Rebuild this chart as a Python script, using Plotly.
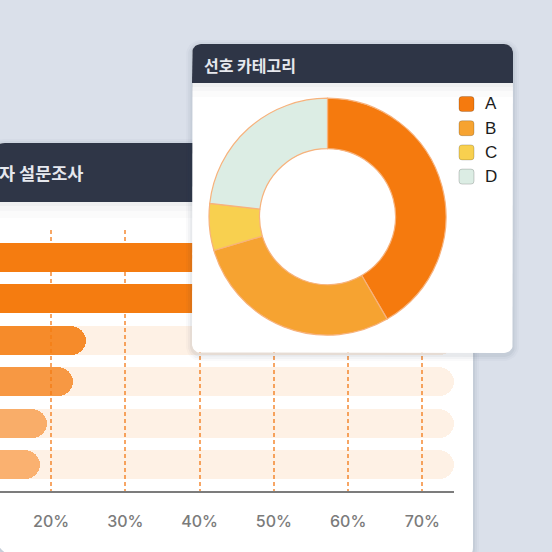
import numpy as np
import plotly.graph_objects as go

W = H = 552

# ---------------- data ----------------
bar_categories = ["매우 만족", "만족", "보통", "불만족", "매우 불만족", "무응답"]
bar_values = [62, 55, 24.7, 22.9, 19.5, 18.5]
bar_alpha = [1.0, 1.0, 0.88, 0.76, 0.58, 0.55]
track_max = 74.3
x_ticks = [20, 30, 40, 50, 60, 70]
x_tick_labels = ["20%", "30%", "40%", "50%", "60%", "70%"]

pie_labels = ["A", "B", "C", "D"]
pie_values = [41.6, 28.8, 6.4, 23.2]
pie_colors = ["#f57a0e", "#f6a331", "#f8d04f", "#dcede4"]

bar_title = "자 설문조사"
pie_title = "선호 카테고리"

ORANGE = (245, 124, 16)
KR_FONT = "Noto Sans CJK KR"
LAT_FONT = "Liberation Sans"


def px(x):
    return x / W


def py(y):
    return 1 - y / H


def rr_path(x0, y0, x1, y1, rtl, rtr, rbr, rbl):
    """rounded rect path in paper coords from pixel coords"""
    def p(x, y):
        return f"{px(x):.5f},{py(y):.5f}"
    return (f"M{p(x0 + rtl, y0)} L{p(x1 - rtr, y0)} Q{p(x1, y0)} {p(x1, y0 + rtr)} "
            f"L{p(x1, y1 - rbr)} Q{p(x1, y1)} {p(x1 - rbr, y1)} "
            f"L{p(x0 + rbl, y1)} Q{p(x0, y1)} {p(x0, y1 - rbl)} "
            f"L{p(x0, y0 + rtl)} Q{p(x0, y0)} {p(x0 + rtl, y0)} Z")


def rr_pts(x0, y0, x1, y1, rtl, rtr, rbr, rbl, n=10):
    xs, ys = [], []
    corners = [
        (x1 - rtr, y0 + rtr, rtr, -90, 0),
        (x1 - rbr, y1 - rbr, rbr, 0, 90),
        (x0 + rbl, y1 - rbl, rbl, 90, 180),
        (x0 + rtl, y0 + rtl, rtl, 180, 270),
    ]
    for cx, cy, r, a0, a1 in corners:
        for a in np.linspace(np.radians(a0), np.radians(a1), n):
            xs.append(cx + r * np.cos(a))
            ys.append(cy + r * np.sin(a))
    xs.append(xs[0])
    ys.append(ys[0])
    return xs, ys


fig = go.Figure()

# ---------------- bar chart (xy tracks, xy3 values overlaid) ----------------
pos = list(range(len(bar_categories)))
fig.add_trace(go.Bar(
    x=[track_max] * len(pos), y=pos, orientation="h", width=0.7,
    marker=dict(color="rgba(245,124,16,0.11)", cornerradius="50%", line=dict(width=0)),
    hoverinfo="skip", showlegend=False, xaxis="x", yaxis="y",
))
fig.add_trace(go.Bar(
    x=bar_values, y=pos, orientation="h", width=0.7,
    marker=dict(color=[f"rgba({ORANGE[0]},{ORANGE[1]},{ORANGE[2]},{a})" for a in bar_alpha],
                cornerradius="50%", line=dict(width=0)),
    customdata=bar_categories, hovertemplate="%{customdata}: %{x}%<extra></extra>",
    showlegend=False, xaxis="x", yaxis="y3",
))

# ---------------- donut card (x2y2, above bars) ----------------
cx0, cy0, cx1, cy1 = 192, 44, 513, 353
for k, a in [(6, 0.025), (4, 0.035), (2, 0.05)]:
    xs, ys = rr_pts(cx0 - k, cy0 - k + 2, cx1 + k, cy1 + k + 2, 9 + k, 9 + k, 9 + k, 9 + k)
    fig.add_trace(go.Scatter(x=xs, y=ys, mode="lines", fill="toself", line=dict(width=0),
                             fillcolor=f"rgba(40,50,75,{a})", hoverinfo="skip",
                             showlegend=False, xaxis="x2", yaxis="y2"))
xs, ys = rr_pts(cx0, cy0, cx1, cy1, 9, 9, 9, 9)
fig.add_trace(go.Scatter(x=xs, y=ys, mode="lines", fill="toself", line=dict(width=0),
                         fillcolor="#ffffff", hoverinfo="skip", showlegend=False,
                         xaxis="x2", yaxis="y2"))
for h, a in [(14, 0.02), (8, 0.025), (4, 0.03)]:
    xs, ys = rr_pts(cx0, 83, cx1, 83 + h, 0, 0, 0, 0, n=2)
    fig.add_trace(go.Scatter(x=xs, y=ys, mode="lines", fill="toself", line=dict(width=0),
                             fillcolor=f"rgba(40,50,75,{a})", hoverinfo="skip",
                             showlegend=False, xaxis="x2", yaxis="y2"))
xs, ys = rr_pts(cx0, cy0, cx1, 83, 9, 9, 0, 0)
fig.add_trace(go.Scatter(x=xs, y=ys, mode="lines", fill="toself", line=dict(width=0),
                         fillcolor="#2e3546", hoverinfo="skip", showlegend=False,
                         xaxis="x2", yaxis="y2"))

# ---------------- donut ----------------
pcx, pcy, R = 327.5, 216.7, 118.5
fig.add_trace(go.Pie(
    labels=pie_labels, values=pie_values, hole=0.574, sort=False,
    direction="clockwise", rotation=0, textinfo="none", showlegend=False,
    marker=dict(colors=pie_colors, line=dict(color="#f7b27c", width=1.2)),
    domain=dict(x=[px(pcx - R), px(pcx + R)], y=[py(pcy + R), py(pcy - R)]),
))

# ---------------- shapes: bar card (below everything) ----------------
shapes = []
bx0, by0, bx1, by1 = -6, 143, 473, 558
for k, a in [(6, 0.025), (4, 0.035), (2, 0.05)]:
    shapes.append(dict(type="path", xref="paper", yref="paper", layer="below",
                       path=rr_path(bx0 - k, by0 - k + 2, bx1 + k, by1 + k, 11 + k, 11 + k, 11 + k, 32 + k),
                       fillcolor=f"rgba(40,50,75,{a})", line=dict(width=0)))
shapes.append(dict(type="path", xref="paper", yref="paper", layer="below",
                   path=rr_path(bx0, by0, bx1, by1, 11, 11, 11, 32),
                   fillcolor="#ffffff", line=dict(width=0)))
for h, a in [(16, 0.02), (9, 0.025), (4, 0.03)]:
    shapes.append(dict(type="path", xref="paper", yref="paper", layer="below",
                       path=rr_path(bx0, 202, bx1, 202 + h, 0, 0, 0, 0),
                       fillcolor=f"rgba(40,50,75,{a})", line=dict(width=0)))
shapes.append(dict(type="path", xref="paper", yref="paper", layer="below",
                   path=rr_path(bx0, by0, bx1, 202, 11, 11, 0, 0),
                   fillcolor="#2f3647", line=dict(width=0)))

# ---------------- legend (manual) ----------------
annotations = []
leg_y0, leg_dy = 104, 24.2
for i, (lab, col) in enumerate(zip(pie_labels, pie_colors)):
    yc = leg_y0 + i * leg_dy
    shapes.append(dict(type="path", xref="paper", yref="paper", layer="above",
                       path=rr_path(459, yc - 7.5, 474, yc + 7.5, 3, 3, 3, 3),
                       fillcolor=col, line=dict(color="rgba(0,0,0,0.18)", width=1)))
    annotations.append(dict(text=lab, x=px(483), y=py(yc), xref="paper", yref="paper",
                            xanchor="left", yanchor="middle", showarrow=False,
                            font=dict(family=LAT_FONT, size=17, color="#1c1c1c")))

annotations.append(dict(text=bar_title, x=px(-3), y=py(172), xref="paper", yref="paper",
                        xanchor="left", yanchor="middle", showarrow=False,
                        font=dict(family=KR_FONT, size=17.5, color="#e6e8ee", weight=600)))
annotations.append(dict(text=pie_title, x=px(202), y=py(65), xref="paper", yref="paper",
                        xanchor="left", yanchor="middle", showarrow=False,
                        font=dict(family=KR_FONT, size=16, color="#e6e8ee", weight=600)))

# ---------------- axes geometry ----------------
px20, px_per = 51.0, 7.406
x_left = 20 - px20 / px_per
row0_y, row_dy = 257.5, 41.5
y_top, y_bot = -0.66, len(pos) - 1 + 0.62
y_domain = [py(row0_y + y_bot * row_dy), py(row0_y + y_top * row_dy)]

fig.update_layout(
    width=W, height=H, margin=dict(l=0, r=0, t=0, b=0),
    paper_bgcolor="#dae0ea", plot_bgcolor="rgba(0,0,0,0)",
    barmode="overlay", bargap=0,
    shapes=shapes, annotations=annotations,
    xaxis=dict(domain=[0, px(454.3)], range=[x_left, track_max], anchor="y",
               tickvals=x_ticks, ticktext=x_tick_labels, showgrid=True,
               gridcolor="#f7a665", gridwidth=1.6, griddash="4px,3px",
               showline=True, linecolor="#7c7c7c", linewidth=2, ticks="",
               ticklabelstandoff=15, zeroline=False, fixedrange=True,
               tickfont=dict(family="Inter", size=16, color="#7b7b7b", weight=500)),
    yaxis=dict(domain=y_domain, range=[y_bot, y_top], anchor="x", showgrid=False,
               showticklabels=False, zeroline=False, showline=False, fixedrange=True),
    yaxis3=dict(overlaying="y", range=[y_bot, y_top], anchor="x", visible=False,
                showgrid=False, zeroline=False, fixedrange=True),
    xaxis2=dict(domain=[0, 1], range=[0, W], anchor="y2", visible=False, fixedrange=True),
    yaxis2=dict(domain=[0, 1], range=[H, 0], anchor="x2", visible=False, fixedrange=True),
    showlegend=False,
)

fig.write_html("out.html")
